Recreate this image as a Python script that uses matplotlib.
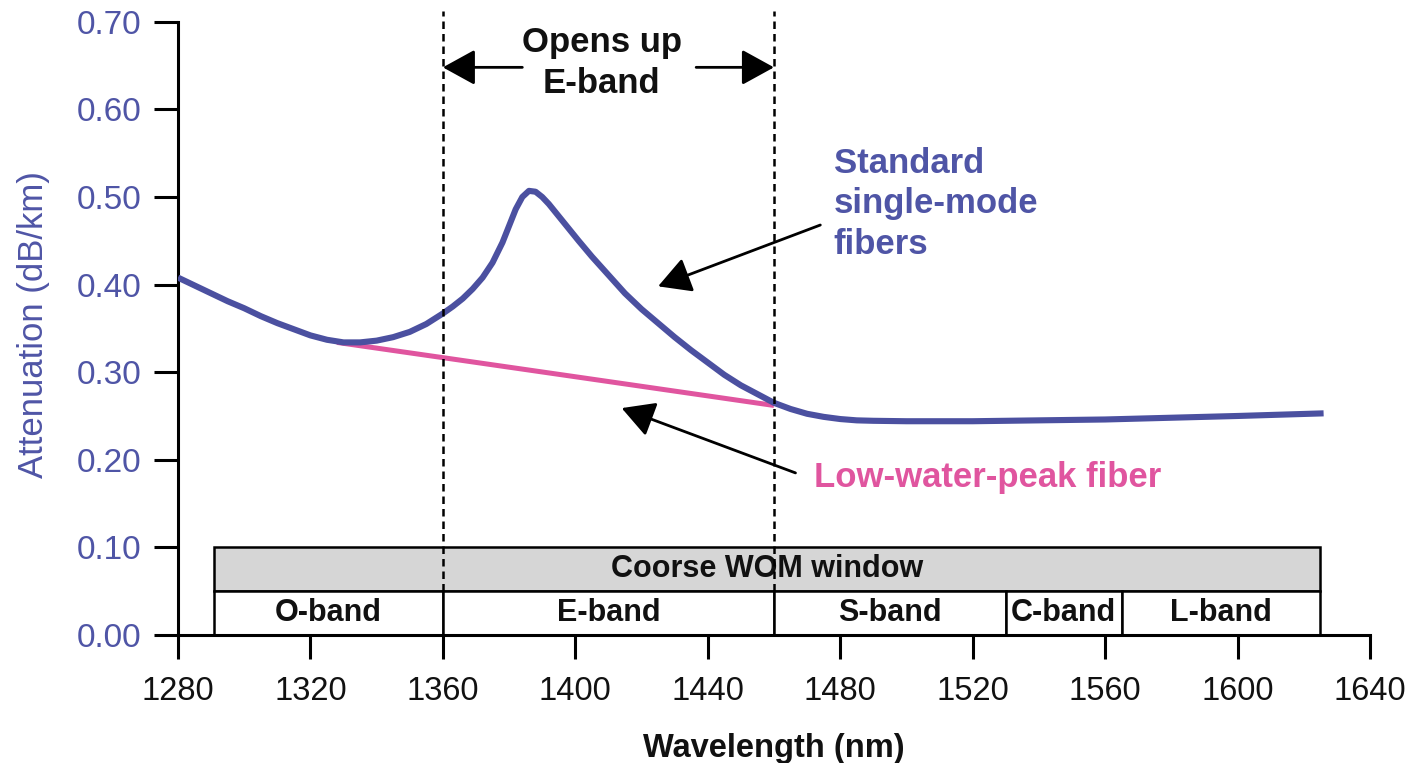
import matplotlib
matplotlib.use("Agg")
import matplotlib.pyplot as plt
from matplotlib.patches import Rectangle

plt.rcParams['font.family'] = ['Liberation Sans', 'DejaVu Sans']

# ---- data ----
wl_std = [1280, 1285, 1290, 1295, 1300, 1305, 1310, 1315, 1320, 1325,
          1330, 1335, 1340, 1345, 1350, 1355, 1360, 1363, 1366, 1369,
          1372, 1375, 1378, 1380, 1382, 1384, 1386, 1388, 1390, 1392,
          1395, 1398, 1401, 1405, 1410, 1415, 1420, 1425, 1430, 1435,
          1440, 1445, 1450, 1455, 1460, 1465, 1470, 1475, 1480, 1485,
          1490, 1500, 1520, 1540, 1560, 1580, 1600, 1626]
att_std = [0.408, 0.399, 0.390, 0.381, 0.373, 0.364, 0.356, 0.349, 0.342, 0.337,
           0.334, 0.334, 0.336, 0.340, 0.346, 0.355, 0.367, 0.375, 0.384, 0.395,
           0.408, 0.425, 0.448, 0.467, 0.486, 0.500, 0.507, 0.506, 0.500, 0.492,
           0.478, 0.464, 0.450, 0.432, 0.411, 0.390, 0.372, 0.356, 0.340, 0.325,
           0.311, 0.297, 0.285, 0.275, 0.265, 0.258, 0.2525, 0.249, 0.2465, 0.245,
           0.2445, 0.244, 0.244, 0.245, 0.246, 0.248, 0.250, 0.253]

wl_lwp = [1328, 1360, 1400, 1430, 1460]
att_lwp = [0.334, 0.3166, 0.2948, 0.2784, 0.262]

band_names = ["O-band", "E-band", "S-band", "C-band", "L-band"]
band_edges = [1291, 1360, 1460, 1530, 1565, 1625]
window_label = "Coorse WOM window"

xticks = [1280, 1320, 1360, 1400, 1440, 1480, 1520, 1560, 1600, 1640]
yticks = [0.0, 0.1, 0.2, 0.3, 0.4, 0.5, 0.6, 0.7]

blue = "#4b50a0"
blue_txt = "#4f55a6"
pink = "#e0559f"

fig = plt.figure(figsize=(14.17, 7.63), dpi=100)
ax = fig.add_axes([0.1256, 0.1678, 0.8412, 0.8266])

# curves
ax.plot(wl_lwp, att_lwp, color=pink, lw=3.6, zorder=3, solid_capstyle='butt')
ax.plot(wl_std, att_std, color=blue, lw=4.4, zorder=4, solid_capstyle='butt',
        solid_joinstyle='round')

# CWDM window box
ax.add_patch(Rectangle((band_edges[0], 0.05), band_edges[-1] - band_edges[0], 0.05,
                       facecolor="#d6d6d6", edgecolor="black", lw=1.8, zorder=2))
ax.text((band_edges[0] + band_edges[-1]) / 2, 0.075, window_label, ha="center",
        va="center", fontsize=22, fontweight="bold", color="#111111", zorder=3)
for i, name in enumerate(band_names):
    x0, x1 = band_edges[i], band_edges[i + 1]
    ax.add_patch(Rectangle((x0, 0.0), x1 - x0, 0.05, facecolor="white",
                           edgecolor="black", lw=1.8, zorder=2))
    ax.text((x0 + x1) / 2, 0.025, name, ha="center", va="center", fontsize=22,
            fontweight="bold", color="#111111", zorder=3)

# dashed E-band limits
for xv in [1360, 1460]:
    ax.plot([xv, xv], [0.05, 0.712], color="black", lw=1.8,
            linestyle=(0, (3, 2)), zorder=5, clip_on=False)

arrow = dict(arrowstyle="-|>,head_length=1.0,head_width=0.55", color="black",
             lw=2.0, mutation_scale=20, shrinkA=0, shrinkB=0)

ax.annotate("", xy=(1360, 0.648), xytext=(1384, 0.648), arrowprops=arrow,
            annotation_clip=False)
ax.annotate("", xy=(1460, 0.648), xytext=(1436.5, 0.648), arrowprops=arrow,
            annotation_clip=False)
ax.text(1408, 0.653, "Opens up\nE-band", ha="center", va="center", fontsize=25,
        fontweight="bold", color="#111111", linespacing=1.3)

ax.annotate("", xy=(1425, 0.398), xytext=(1474, 0.468), arrowprops=arrow)
ax.text(1478, 0.492, "Standard\nsingle-mode\nfibers", ha="left", va="center",
        fontsize=25, fontweight="bold", color=blue_txt, linespacing=1.3)

ax.annotate("", xy=(1414, 0.259), xytext=(1466.5, 0.185), arrowprops=arrow)
ax.text(1472, 0.180, "Low-water-peak fiber", ha="left", va="center",
        fontsize=25, fontweight="bold", color=pink)

# axes styling
ax.set_xlim(1280, 1640)
ax.set_ylim(0, 0.72)
ax.set_xticks(xticks)
ax.set_yticks(yticks)
ax.set_yticklabels([f"{v:.2f}" for v in yticks])
ax.spines['top'].set_visible(False)
ax.spines['right'].set_visible(False)
ax.spines['left'].set_bounds(0, 0.70)
ax.spines['left'].set_linewidth(2.2)
ax.spines['bottom'].set_linewidth(2.2)
ax.tick_params(axis='both', direction='out', length=17.5, width=2.2)
ax.tick_params(axis='x', labelsize=23.5, labelcolor="#111111", pad=12)
ax.tick_params(axis='y', labelsize=24, labelcolor=blue_txt, pad=9)

ax.set_xlabel("Wavelength (nm)", fontsize=23.5, fontweight="bold", color="#111111")
ax.xaxis.set_label_coords(0.5, -0.155)
ax.set_ylabel("Attenuation (dB/km)", fontsize=25, color=blue_txt)
ax.yaxis.set_label_coords(-0.1075, 0.492)

fig.savefig("out.png", dpi=100)
